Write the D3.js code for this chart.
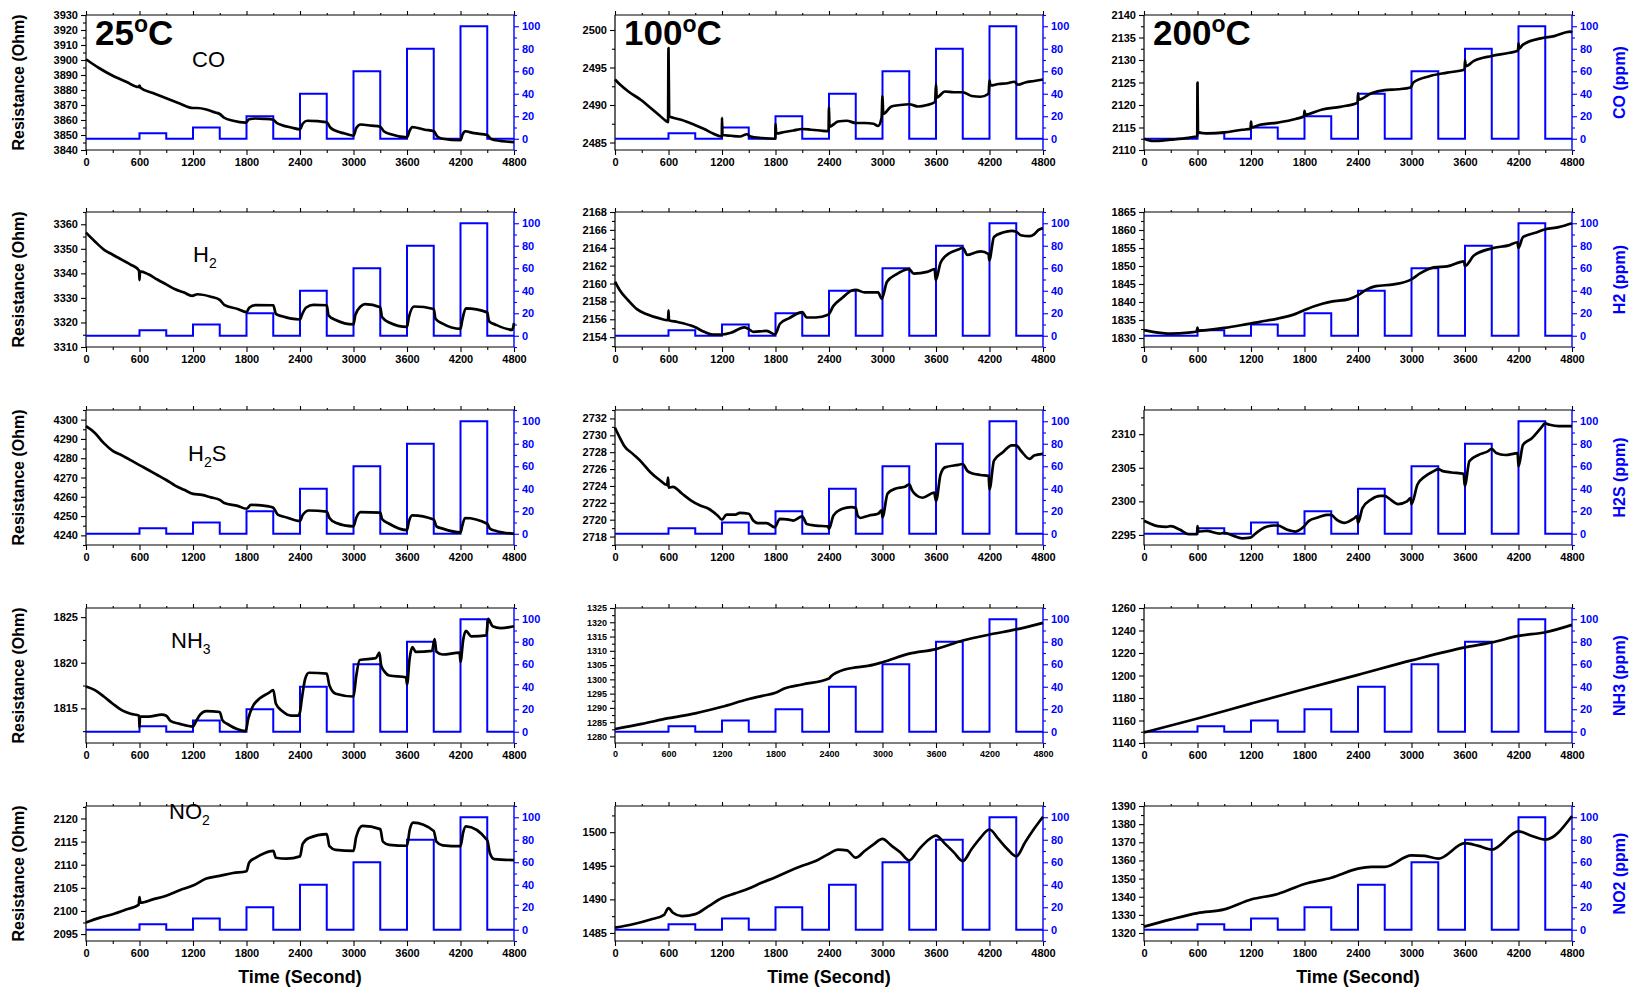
<!DOCTYPE html>
<html>
<head>
<meta charset="utf-8">
<script src="https://cdn.jsdelivr.net/npm/d3@7"></script>
<style>
  body { margin: 0; background: #fff; }
  svg { display: block; }
  text { font-family: "Liberation Sans", Arial, sans-serif; }
</style>
</head>
<body>
<svg id="fig" width="1629" height="989"></svg>
<script>
// ---- gas dosing programme (right axis, ppm) ----
const stepTimes = [0, 600, 900, 1200, 1500, 1800, 2100, 2400, 2700, 3000, 3300, 3600, 3900, 4200, 4500, 4800];
const stepPpm   = [0, 5, 0, 10, 0, 20, 0, 40, 0, 60, 0, 80, 0, 100, 0, 0];
const timeTicks = [0, 600, 1200, 1800, 2400, 3000, 3600, 4200, 4800];
const ppmTicks  = [0, 20, 40, 60, 80, 100];
const ppmRange  = [-10, 110];

const temps = ["25", "100", "200"];
const gases = ["CO", "H2", "H2S", "NH3", "NO2"];

// ---- resistance records [time s, resistance Ohm] ----
const co25 = [[0,3900.5],[60,3898],[150,3894.5],[300,3889.5],[450,3885.5],[590,3882],[600,3883],[610,3881.5],[750,3878],[900,3874.5],[1050,3871],[1200,3868],[1250,3868],[1350,3867],[1450,3865],[1500,3864],[1550,3861.5],[1650,3859.5],[1790,3858.3],[1830,3860.5],[1900,3861],[2000,3860.8],[2100,3860.2],[2140,3858],[2200,3856.5],[2300,3855],[2400,3853.8],[2430,3857.5],[2480,3859.5],[2600,3859.2],[2700,3858.5],[2740,3855],[2800,3852.8],[2900,3851],[3000,3849.5],[3030,3854.5],[3080,3857],[3200,3856.2],[3300,3855.5],[3340,3852.5],[3420,3850.5],[3600,3848.5],[3630,3853],[3660,3855.3],[3800,3853.5],[3900,3852.6],[3940,3849],[4000,3847.5],[4200,3846.5],[4225,3850.5],[4250,3852.5],[4350,3851.2],[4500,3850],[4540,3847.5],[4600,3846.5],[4800,3845.3]];
const co100 = [[0,2493.4],[50,2492.8],[150,2491.8],[300,2490.6],[400,2489.6],[500,2488.6],[580,2487.8],[595,2487.7],[600,2497.6],[607,2488.5],[650,2488.3],[750,2488],[900,2487.3],[1000,2486.8],[1100,2486.2],[1190,2485.8],[1198,2485.9],[1200,2488.3],[1205,2486],[1300,2485.9],[1400,2485.8],[1480,2486.1],[1520,2485.8],[1650,2485.6],[1790,2485.5],[1798,2485.6],[1800,2487.5],[1808,2486.2],[1900,2486.4],[2000,2486.6],[2100,2486.8],[2200,2486.7],[2300,2486.6],[2395,2486.5],[2400,2489.7],[2405,2487.1],[2450,2487.4],[2500,2487.8],[2600,2487.9],[2700,2487.6],[2800,2487.6],[2900,2487.5],[2950,2487.2],[2990,2488.3],[3000,2491.2],[3008,2488.8],[3100,2489.8],[3200,2490],[3300,2490.1],[3400,2489.8],[3500,2490],[3590,2490.4],[3600,2492.8],[3608,2491],[3700,2491.8],[3800,2491.7],[3900,2491.7],[4000,2491.2],[4100,2491.1],[4190,2491.5],[4200,2493.3],[4210,2492.6],[4300,2492.8],[4400,2492.9],[4480,2493.1],[4520,2492.7],[4600,2493.0],[4700,2493.2],[4800,2493.4]];
const co200 = [[0,2112.5],[100,2112],[300,2112.3],[500,2112.7],[590,2113],[597,2113],[600,2125],[605,2114],[700,2113.7],[900,2113.9],[1100,2114.5],[1195,2114.7],[1200,2116.3],[1207,2115],[1300,2115.6],[1500,2116.1],[1700,2116.9],[1795,2117.5],[1800,2118.7],[1810,2117.8],[1850,2118],[2000,2119],[2200,2119.6],[2395,2120.5],[2400,2122.6],[2408,2121.2],[2550,2122.6],[2700,2123.3],[2850,2123.5],[2990,2123.9],[3020,2125],[3200,2126.4],[3400,2127.2],[3595,2127.9],[3600,2130],[3608,2128.6],[3700,2129.8],[3900,2130.9],[4100,2131.6],[4195,2132.1],[4200,2133.7],[4208,2132.5],[4250,2133.4],[4450,2134.8],[4600,2135.3],[4780,2136.3],[4800,2136.1]];

const h2_25 = [[0,3356.6],[100,3353],[200,3349.7],[300,3347.6],[400,3345.6],[500,3343.6],[595,3341.2],[600,3337.2],[605,3340.8],[700,3339.6],[800,3337.5],[900,3335.5],[1000,3333.5],[1100,3332.2],[1190,3330.8],[1250,3331.5],[1400,3330.5],[1500,3329.2],[1550,3327.2],[1700,3325.5],[1800,3324.2],[1830,3326],[1900,3327.1],[2100,3327],[2130,3323.5],[2200,3322.5],[2400,3321.2],[2420,3323],[2470,3326.1],[2550,3327.2],[2700,3327],[2720,3322.9],[2800,3321],[3000,3319.2],[3020,3323],[3080,3326.5],[3130,3327.5],[3300,3326.2],[3320,3322.2],[3400,3320],[3600,3318.2],[3620,3322],[3680,3326.5],[3900,3325.5],[3920,3321.5],[4000,3319.5],[4200,3317.4],[4220,3321],[4260,3325.7],[4500,3324.1],[4520,3320.5],[4600,3319],[4780,3317],[4800,3319.8]];
const h2_100 = [[0,2160.2],[50,2159.3],[150,2158.1],[250,2157.1],[350,2156.6],[500,2156.1],[595,2155.9],[600,2157],[605,2155.9],[700,2155.7],[850,2155.3],[900,2155.1],[1000,2154.6],[1100,2154.3],[1200,2154.3],[1300,2154.5],[1450,2155.1],[1500,2154.9],[1550,2154.6],[1700,2154.7],[1795,2154.3],[1850,2155.5],[1950,2156.1],[2100,2156.8],[2150,2156.2],[2250,2156.2],[2390,2156.5],[2450,2157.5],[2550,2158.4],[2650,2159.2],[2700,2159.3],[2800,2159],[2950,2159],[2992,2158.3],[3050,2160.2],[3150,2161],[3300,2161.6],[3350,2161.1],[3500,2161.3],[3585,2161.6],[3597,2160.4],[3650,2162.3],[3700,2163],[3850,2163.8],[3900,2164],[3950,2163.2],[4050,2163.5],[4100,2163.6],[4190,2163.3],[4197,2162.6],[4250,2165.2],[4350,2165.7],[4450,2165.9],[4500,2165.8],[4550,2165.4],[4650,2165.3],[4700,2165.5],[4750,2166],[4800,2166.2]];
const h2_200 = [[0,1832.2],[100,1831.7],[300,1831.2],[500,1831.5],[590,1831.8],[600,1832.9],[607,1832],[700,1832.2],[900,1832.8],[1100,1833.6],[1300,1834.5],[1500,1835.4],[1700,1836.7],[1800,1837.8],[2000,1839.5],[2100,1840.1],[2300,1840.8],[2400,1841.9],[2500,1843.5],[2600,1844.4],[2800,1844.9],[3000,1846.3],[3100,1848],[3250,1849.6],[3400,1849.9],[3590,1851.3],[3598,1850],[3700,1852.9],[3900,1854.9],[4100,1855.8],[4190,1856.6],[4198,1855],[4250,1858],[4400,1859.3],[4500,1860.2],[4650,1860.8],[4800,1861.9]];

const h2s_25 = [[0,4296.6],[100,4293.1],[200,4287.8],[300,4283.8],[400,4281.5],[500,4279],[600,4276.4],[700,4273.9],[800,4271.3],[900,4268.7],[1000,4265.8],[1100,4263.6],[1200,4261.5],[1300,4261],[1400,4259.7],[1500,4258.4],[1550,4256.8],[1700,4255.3],[1800,4253.8],[1850,4255.8],[2050,4255],[2100,4254.3],[2150,4250.8],[2250,4249.3],[2400,4247.4],[2430,4250.5],[2500,4252.9],[2700,4252.3],[2730,4249],[2800,4246.6],[3000,4244.7],[3030,4249],[3080,4252],[3300,4251.8],[3320,4248.5],[3400,4246],[3600,4242.7],[3620,4247],[3660,4250.4],[3900,4248.2],[3930,4244.7],[4000,4243.5],[4200,4241.5],[4220,4245],[4250,4249],[4500,4246],[4530,4243.5],[4600,4242.3],[4800,4240.8]];
const h2s_100 = [[0,2730.9],[50,2729.8],[100,2728.8],[200,2727.8],[300,2726.8],[400,2725.6],[500,2724.7],[585,2724.1],[595,2725],[602,2723.8],[650,2723.9],[750,2723.1],[850,2722.3],[950,2721.7],[1050,2721.3],[1150,2720.5],[1200,2720],[1250,2720.6],[1350,2720.6],[1400,2720.8],[1500,2720.7],[1550,2719.9],[1600,2719.6],[1700,2719.6],[1790,2719.1],[1850,2720.1],[1950,2720],[2000,2719.9],[2100,2720.4],[2150,2719.5],[2250,2719.3],[2390,2719.2],[2400,2718.9],[2450,2720.5],[2550,2721.3],[2650,2721.5],[2700,2721.4],[2720,2720.5],[2750,2720.2],[2850,2720.5],[2950,2720.7],[2990,2721.1],[3000,2720.3],[3057,2723.1],[3150,2723.7],[3250,2723.9],[3300,2724.2],[3330,2723.5],[3380,2722.9],[3450,2722.6],[3580,2723.2],[3600,2722.2],[3650,2725.3],[3700,2726.2],[3850,2726.5],[3900,2726.6],[3950,2725.8],[4000,2725.5],[4100,2725.3],[4190,2725.2],[4200,2723.6],[4250,2727],[4350,2728],[4450,2728.8],[4500,2728.8],[4550,2728.2],[4650,2727.2],[4700,2727.6],[4800,2727.8]];
const h2s_200 = [[0,2297.1],[50,2296.8],[150,2296.3],[250,2296.2],[300,2296.3],[400,2295.8],[500,2295.1],[595,2295.1],[600,2296.3],[610,2295.5],[700,2295.6],[850,2295.2],[900,2295.3],[1000,2294.9],[1100,2294.5],[1190,2294.6],[1250,2295.2],[1350,2296.1],[1450,2296.4],[1500,2296.4],[1600,2295.8],[1700,2295.5],[1790,2296.2],[1850,2297.1],[1950,2297.6],[2050,2298],[2100,2298],[2150,2297.4],[2250,2296.8],[2350,2297.4],[2390,2297.8],[2400,2296.8],[2450,2299],[2550,2300.3],[2650,2300.8],[2700,2300.8],[2750,2300.4],[2850,2299.6],[2950,2300],[2990,2300.5],[3000,2299.6],[3067,2302.5],[3150,2303.7],[3250,2304.5],[3300,2304.8],[3350,2304.5],[3450,2304.3],[3585,2304.1],[3597,2302.3],[3650,2306],[3750,2306.9],[3850,2307.4],[3900,2307.8],[3950,2307.2],[4050,2306.9],[4150,2307.1],[4190,2307.2],[4200,2305.2],[4250,2308.4],[4350,2309.4],[4450,2310.9],[4500,2311.6],[4550,2311.4],[4650,2311.2],[4800,2311.2]];

const nh3_25 = [[0,1817.4],[100,1817],[200,1816.3],[300,1815.5],[400,1814.8],[500,1814.4],[595,1814.2],[600,1812.9],[605,1814.1],[700,1814.1],[850,1814.3],[900,1814.2],[950,1813.6],[1050,1813.3],[1200,1813],[1230,1813.5],[1280,1814.3],[1350,1814.7],[1500,1814.6],[1530,1813.7],[1600,1813.2],[1700,1812.7],[1790,1812.5],[1820,1813.9],[1870,1815.2],[1950,1816.1],[2050,1816.7],[2100,1817],[2130,1815.5],[2200,1814.7],[2300,1814.2],[2380,1814.2],[2400,1814.6],[2420,1816],[2460,1818.3],[2500,1818.9],[2700,1818.8],[2730,1817.5],[2800,1816.6],[3000,1816.3],[3030,1818.5],[3070,1820.3],[3250,1820.5],[3290,1821.1],[3310,1819.7],[3350,1819],[3400,1818.6],[3590,1818.4],[3600,1817.6],[3630,1820.5],[3660,1821.7],[3700,1821.2],[3880,1821.3],[3910,1822.6],[3930,1821.2],[4000,1820.9],[4190,1821.1],[4200,1820.1],[4230,1822.5],[4260,1823.5],[4320,1822.9],[4490,1823],[4510,1824.8],[4560,1824],[4650,1823.8],[4750,1823.9],[4800,1824]];
const nh3_100 = [[0,1282.6],[300,1284.4],[600,1286.4],[900,1288.1],[1200,1290.4],[1500,1293.1],[1650,1294.2],[1800,1295.3],[1900,1296.8],[2100,1298.2],[2400,1300.3],[2420,1301],[2500,1302.6],[2700,1304.2],[2850,1304.8],[3000,1306],[3300,1309],[3600,1310.6],[3900,1313.6],[4200,1315.7],[4500,1317.5],[4800,1319.8]];
const nh3_200 = [[0,1149.3],[600,1161.8],[1200,1175],[1800,1188],[2400,1200.6],[3000,1213.4],[3600,1225],[3900,1229.4],[4200,1235.2],[4500,1238.4],[4800,1245]];

const no2_25 = [[0,2097.5],[150,2098.5],[300,2099.3],[450,2100.3],[590,2101.3],[600,2103],[610,2101.8],[750,2102.5],[900,2103.3],[1050,2104.5],[1200,2105.5],[1350,2107],[1500,2107.6],[1650,2108.2],[1800,2108.6],[1830,2110.5],[1900,2111.5],[2000,2112.5],[2100,2113],[2130,2111.5],[2250,2111.3],[2400,2111.8],[2430,2114.5],[2500,2115.8],[2700,2116.6],[2730,2114],[2800,2113.2],[3000,2113],[3030,2116],[3100,2118.4],[3300,2117.7],[3330,2115],[3400,2114.3],[3600,2114.1],[3630,2117.5],[3670,2119.1],[3900,2117.3],[3930,2115],[4000,2114.2],[4200,2114],[4230,2117],[4260,2118.3],[4500,2115.3],[4530,2112.5],[4580,2111.2],[4800,2111]];
const no2_100 = [[0,1485.8],[200,1486.3],[400,1487],[550,1487.7],[600,1488.7],[650,1488],[750,1487.5],[900,1487.8],[1050,1489],[1200,1490.2],[1350,1490.9],[1500,1491.6],[1650,1492.5],[1800,1493.3],[1950,1494.2],[2100,1495],[2250,1495.7],[2400,1496.8],[2500,1497.4],[2600,1497.3],[2700,1496.2],[2800,1497.2],[2900,1498.2],[3000,1499],[3100,1498],[3200,1497],[3300,1495.8],[3400,1497.3],[3500,1498.7],[3600,1499.5],[3700,1498.3],[3800,1497],[3900,1495.7],[4000,1497.5],[4100,1499.2],[4200,1500.4],[4300,1499],[4400,1497.5],[4500,1496.4],[4600,1498.5],[4700,1500.5],[4800,1502.3]];
const no2_200 = [[0,1323.5],[300,1327.5],[600,1331],[900,1333],[1200,1338.5],[1500,1341.5],[1800,1347],[2100,1350.5],[2400,1355.5],[2550,1356.5],[2700,1356.5],[3000,1362.8],[3150,1362.5],[3300,1361],[3600,1369.5],[3750,1368],[3900,1366],[4200,1376],[4350,1373.5],[4500,1371.5],[4800,1384.5]];

// ---- left axis ranges and tick values ----
const co25Range = [3840, 3930],    co25Ticks = [3840, 3850, 3860, 3870, 3880, 3890, 3900, 3910, 3920, 3930];
const co100Range = [2484, 2502],   co100Ticks = [2485, 2490, 2495, 2500];
const co200Range = [2110, 2140],   co200Ticks = [2110, 2115, 2120, 2125, 2130, 2135, 2140];
const h2_25Range = [3310, 3365],   h2_25Ticks = [3310, 3320, 3330, 3340, 3350, 3360];
const h2_100Range = [2152.9, 2168], h2_100Ticks = [2154, 2156, 2158, 2160, 2162, 2164, 2166, 2168];
const h2_200Range = [1827.5, 1865], h2_200Ticks = [1830, 1835, 1840, 1845, 1850, 1855, 1860, 1865];
const h2s_25Range = [4235, 4305],  h2s_25Ticks = [4240, 4250, 4260, 4270, 4280, 4290, 4300];
const h2s_100Range = [2717, 2733], h2s_100Ticks = [2718, 2720, 2722, 2724, 2726, 2728, 2730, 2732];
const h2s_200Range = [2293.5, 2313.6], h2s_200Ticks = [2295, 2300, 2305, 2310];
const nh3_25Range = [1811.2, 1826], nh3_25Ticks = [1815, 1820, 1825];
const nh3_100Range = [1277.7, 1325], nh3_100Ticks = [1280, 1285, 1290, 1295, 1300, 1305, 1310, 1315, 1320, 1325];
const nh3_200Range = [1140, 1260], nh3_200Ticks = [1140, 1160, 1180, 1200, 1220, 1240, 1260];
const no2_25Range = [2093.5, 2122.7], no2_25Ticks = [2095, 2100, 2105, 2110, 2115, 2120];
const no2_100Range = [1483.8, 1503.9], no2_100Ticks = [1485, 1490, 1495, 1500];
const no2_200Range = [1315.6, 1390], no2_200Ticks = [1320, 1330, 1340, 1350, 1360, 1370, 1380, 1390];

// panel table, row = gas, column = temperature
const panelRows = [
  [[co25, co25Range, co25Ticks], [co100, co100Range, co100Ticks], [co200, co200Range, co200Ticks]],
  [[h2_25, h2_25Range, h2_25Ticks], [h2_100, h2_100Range, h2_100Ticks], [h2_200, h2_200Range, h2_200Ticks]],
  [[h2s_25, h2s_25Range, h2s_25Ticks], [h2s_100, h2s_100Range, h2s_100Ticks], [h2s_200, h2s_200Range, h2s_200Ticks]],
  [[nh3_25, nh3_25Range, nh3_25Ticks], [nh3_100, nh3_100Range, nh3_100Ticks], [nh3_200, nh3_200Range, nh3_200Ticks]],
  [[no2_25, no2_25Range, no2_25Ticks], [no2_100, no2_100Range, no2_100Ticks], [no2_200, no2_200Range, no2_200Ticks]]
];

// ---- layout ----
const colX = [86, 615, 1144];
const rowY = [15, 212, 410, 608, 806];
const W = 428, H = 135;
const BLUE = "#0000ff";
const FONT = "'Liberation Sans', Arial, sans-serif";

const svg = d3.select("#fig");
const stepData = stepTimes.map((t, i) => [t, stepPpm[i]]);

// gas labels inside the 25 °C panels: [main, subscript, tail]
const gasLabelParts = [["CO", "", ""], ["H", "2", ""], ["H", "2", "S"], ["NH", "3", ""], ["NO", "2", ""]];
const gasLabelPos = [[106, 52], [107, 50], [102, 51], [85, 40], [83, 13]];

function styleAxis(g, color, fontSize) {
  g.select(".domain").remove();
  g.selectAll(".tick line").attr("stroke", color).attr("stroke-width", 1.1);
  g.selectAll(".tick text")
    .attr("fill", color)
    .style("font-family", FONT)
    .style("font-weight", "bold")
    .style("font-size", fontSize + "px");
}

function minorBetween(ticks, dom) {
  const step = ticks[1] - ticks[0];
  return d3.range(ticks[0] - step / 2, dom[1] + 1e-9, step).filter(v => v >= dom[0] - 1e-9 && v <= dom[1] + 1e-9);
}

panelRows.forEach((row, r) => {
  row.forEach((cell, c) => {
    const [series, dom, ticks] = cell;
    const g = svg.append("g").attr("transform", `translate(${colX[c]},${rowY[r]})`);
    const fs = (r === 3 && c === 1) ? 9 : 11;

    const x = d3.scaleLinear().domain([0, 4800]).range([0, W]);
    const yL = d3.scaleLinear().domain(dom).range([H, 0]);
    const yR = d3.scaleLinear().domain(ppmRange).range([H, 0]);

    // bottom axis + minor ticks
    const bx = g.append("g").attr("transform", `translate(0,${H})`)
      .call(d3.axisBottom(x).tickValues(timeTicks).tickSize(5).tickPadding(3).tickFormat(d3.format("d")));
    styleAxis(bx, "#000", fs);
    g.append("g").attr("transform", `translate(0,${H})`)
      .call(d3.axisBottom(x).tickValues(d3.range(300, 4800, 600)).tickSize(3).tickFormat(""))
      .call(a => styleAxis(a, "#000", fs));
    // top axis ticks
    g.append("g")
      .call(d3.axisTop(x).tickValues(timeTicks).tickSize(4).tickFormat(""))
      .call(a => styleAxis(a, "#000", fs));
    g.append("g")
      .call(d3.axisTop(x).tickValues(d3.range(300, 4800, 600)).tickSize(2).tickFormat(""))
      .call(a => styleAxis(a, "#000", fs));

    // left axis + minor ticks
    const ly = g.append("g")
      .call(d3.axisLeft(yL).tickValues(ticks).tickSize(5).tickPadding(3).tickFormat(d3.format("d")));
    styleAxis(ly, "#000", fs);
    g.append("g")
      .call(d3.axisLeft(yL).tickValues(minorBetween(ticks, dom)).tickSize(3).tickFormat(""))
      .call(a => styleAxis(a, "#000", fs));

    // right axis (ppm) + minor ticks
    const ry = g.append("g").attr("transform", `translate(${W},0)`)
      .call(d3.axisRight(yR).tickValues(ppmTicks).tickSize(5).tickPadding(3));
    styleAxis(ry, BLUE, 11);
    g.append("g").attr("transform", `translate(${W},0)`)
      .call(d3.axisRight(yR).tickValues(d3.range(-10, 111, 20)).tickSize(3).tickFormat(""))
      .call(a => styleAxis(a, BLUE, 11));

    // frame
    g.append("path").attr("d", `M0,0V${H}H${W}`).attr("fill", "none").attr("stroke", "#000").attr("stroke-width", 1.2);
    g.append("path").attr("d", `M0,0H${W}`).attr("fill", "none").attr("stroke", "#000").attr("stroke-width", 1.2);
    g.append("path").attr("d", `M${W},0V${H}`).attr("fill", "none").attr("stroke", BLUE).attr("stroke-width", 1.4);

    // concentration steps
    g.append("path")
      .datum(stepData)
      .attr("fill", "none")
      .attr("stroke", BLUE)
      .attr("stroke-width", 2)
      .attr("d", d3.line().x(d => x(d[0])).y(d => yR(d[1])).curve(d3.curveStepAfter));

    // resistance trace
    g.append("path")
      .datum(series)
      .attr("fill", "none")
      .attr("stroke", "#000")
      .attr("stroke-width", 2.7)
      .attr("stroke-linejoin", "round")
      .attr("d", d3.line().x(d => x(d[0])).y(d => yL(d[1])).curve(d3.curveMonotoneX));

    // temperature headline on first row
    if (r === 0) {
      const t = g.append("text").attr("x", 9).attr("y", 30)
        .style("font-family", FONT).style("font-weight", "bold").style("font-size", "35px").attr("fill", "#000");
      t.append("tspan").text(temps[c]);
      t.append("tspan").text("o").style("font-size", "23px").attr("dy", -13);
      t.append("tspan").text("C").attr("dy", 13);
    }

    // gas label in the first column
    if (c === 0) {
      const [main, sub, tail] = gasLabelParts[r];
      const t = g.append("text").attr("x", gasLabelPos[r][0]).attr("y", gasLabelPos[r][1])
        .style("font-family", FONT).style("font-size", "22px").attr("fill", "#000");
      t.append("tspan").text(main);
      if (sub) t.append("tspan").text(sub).style("font-size", "14px").attr("dy", 6);
      if (tail) t.append("tspan").text(tail).attr("dy", -6);

      svg.append("text")
        .attr("transform", `translate(24,${rowY[r] + H / 2}) rotate(-90)`)
        .attr("text-anchor", "middle")
        .style("font-family", FONT).style("font-weight", "bold").style("font-size", "16px")
        .text("Resistance (Ohm)");
    }

    // ppm title in the last column
    if (c === 2) {
      svg.append("text")
        .attr("transform", `translate(${colX[c] + W + 53},${rowY[r] + H / 2}) rotate(-90)`)
        .attr("text-anchor", "middle")
        .attr("fill", BLUE)
        .style("font-family", FONT).style("font-weight", "bold").style("font-size", "16px")
        .text(gases[r] + " (ppm)");
    }

    // time label under the last row
    if (r === 4) {
      svg.append("text")
        .attr("x", colX[c] + W / 2).attr("y", rowY[r] + H + 42)
        .attr("text-anchor", "middle")
        .style("font-family", FONT).style("font-weight", "bold").style("font-size", "18px")
        .text("Time (Second)");
    }
  });
});
</script>
</body>
</html>
